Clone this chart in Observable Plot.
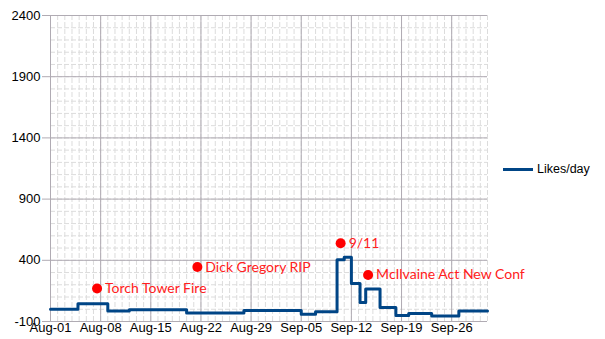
<!DOCTYPE html>
<html>
<head>
<meta charset="utf-8">
<script src="https://cdn.jsdelivr.net/npm/d3@7"></script>
<script src="https://cdn.jsdelivr.net/npm/@observablehq/plot@0.6"></script>
<style>
  html, body { margin: 0; padding: 0; background: #fff; }
  #wrap { position: relative; width: 605px; height: 339px; }
  #legend { position: absolute; left: 503px; top: 162px; font: 12.5px "Liberation Sans", Arial, sans-serif; color: #000; display: flex; align-items: center; }
  #legend .sw { width: 30px; height: 3px; background: #004586; margin-right: 4px; }
</style>
</head>
<body>
<div id="wrap"><div id="legend"><span class="sw"></span><span>Likes/day</span></div></div>
<script>
// Step change dates and likes/day values (value holds until next date)
const stepDates = ["2017-08-01","2017-08-04T20:00","2017-08-09","2017-08-12","2017-08-20","2017-08-28","2017-09-05","2017-09-07","2017-09-10","2017-09-11","2017-09-12","2017-09-13T05:00","2017-09-14","2017-09-16","2017-09-18T05:00","2017-09-20","2017-09-23T05:00","2017-09-27","2017-10-01"];
const stepValues = [0, 45, -15, -5, -30, -10, -40, -20, 405, 425, 210, 55, 165, 15, -50, -35, -55, -15, -15];

// Annotated events
const eventNames = ["Torch Tower Fire", "Dick Gregory RIP", "9/11", "McIlvaine Act New Conf"];
const eventDates = ["2017-08-07T12:00", "2017-08-21T12:00", "2017-09-10T12:00", "2017-09-14T08:00"];
const eventValues = [170, 345, 540, 280];

// Axis ticks
const xTickDates = ["2017-08-01","2017-08-08","2017-08-15","2017-08-22","2017-08-29","2017-09-05","2017-09-12","2017-09-19","2017-09-26"];
const yTicks = [-100, 400, 900, 1400, 1900, 2400];

const parse = s => new Date(s + (s.length === 10 ? "T00:00Z" : "Z"));
const series = stepDates.map((d, i) => ({date: parse(d), value: stepValues[i]}));
const events = eventNames.map((n, i) => ({name: n, date: parse(eventDates[i]), value: eventValues[i]}));
const xTicks = xTickDates.map(parse);
const start = parse("2017-08-01"), end = parse("2017-10-01");
const minorDays = d3.utcDay.range(start, d3.utcDay.offset(end, 1));
const minorY = d3.range(-100, 2401, 100);

const chart = Plot.plot({
  width: 605,
  height: 339,
  marginLeft: 50,
  marginRight: 118,
  marginTop: 15,
  marginBottom: 18,
  style: {fontFamily: "'Liberation Sans', Arial, sans-serif", fontSize: "13px", color: "#000", background: "#fff", overflow: "visible"},
  x: {type: "utc", domain: [start, end], label: null},
  y: {domain: [-100, 2400], label: null},
  marks: [
    Plot.ruleX(minorDays, {stroke: "#dcdcdc", strokeDasharray: "5,2"}),
    Plot.ruleY(minorY, {stroke: "#dcdcdc", strokeDasharray: "5,2"}),
    Plot.ruleX(xTicks, {stroke: "#b0abb3"}),
    Plot.ruleY(yTicks, {stroke: "#b0abb3"}),
    Plot.axisY({ticks: yTicks, tickSize: 8, tickPadding: 2, tickFormat: d => String(d), stroke: "#b0abb3", fill: "#000", fontSize: 13, label: null}),
    Plot.axisX({ticks: xTicks, tickSize: 0, tickPadding: 1, tickFormat: d3.utcFormat("%b-%d"), fill: "#000", fontSize: 13, label: null}),
    Plot.line(series, {x: "date", y: "value", curve: "step-after", stroke: "#004586", strokeWidth: 3}),
    Plot.dot(events, {x: "date", y: "value", r: 5, fill: "#ff0000", stroke: "none"}),
    Plot.text(events, {x: "date", y: "value", text: "name", dx: 8, textAnchor: "start", fill: "#ff2020", fontSize: 14, fontFamily: "Lato, 'Open Sans', sans-serif"})
  ]
});
document.getElementById("wrap").prepend(chart);
</script>
</body>
</html>
